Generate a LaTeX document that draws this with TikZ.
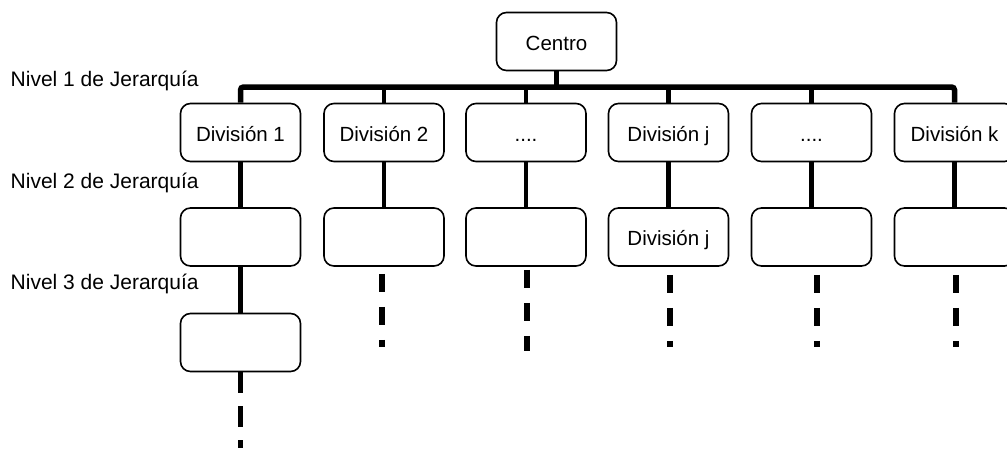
\documentclass[tikz,border=0pt]{standalone}
\usepackage{fontspec}
\setmainfont{Liberation Sans}
\begin{document}
\begin{tikzpicture}[x=1pt,y=-1pt,
  txt/.style={font=\fontsize{20.5}{24}\selectfont},
  box/.style={txt, draw, line width=1.6pt, rounded corners=10pt,
    minimum width=120pt, minimum height=58pt, inner sep=0pt,
    text height=17pt, text depth=0pt},
  lvl/.style={font=\fontsize{21}{25}\selectfont, anchor=base west, inner sep=0pt},
  bus/.style={line width=5.5pt, rounded corners=3pt},
  bar/.style={line width=4.5pt},
  tail/.style={line width=5.5pt, dash pattern=on 18pt off 15pt}]
\clip (0,0) rectangle (1007,448);

% hierarchy level captions
\node[lvl] (n1) at (10.5,86) {Nivel 1 de Jerarquía};
\node[lvl] (n2) at (10.5,188) {Nivel 2 de Jerarquía};
\node[lvl] (n3) at (10.5,289) {Nivel 3 de Jerarquía};

% root
\node[box] (c) at (556.5,41.5) {Centro};

% level 1
\node[box] (d1) at (240.5,132.5) {División 1};
\node[box] (d2) at (384,132.5) {División 2};
\node[box] (d3) at (526,132.5) {....};
\node[box] (d4) at (668.5,132.5) {División j};
\node[box] (d5) at (811.5,132.5) {....};
\node[box] (d6) at (954.5,132.5) {División k};

% level 2
\node[box] (e1) at (240.5,237) {};
\node[box] (e2) at (384,237) {};
\node[box] (e3) at (526,237) {};
\node[box] (e4) at (668.5,237) {División j};
\node[box] (e5) at (811.5,237) {};
\node[box] (e6) at (954.5,237) {};

% level 3
\node[box] (f1) at (240.5,342.5) {};

% horizontal bus under the root
\coordinate (busy) at (0,87);
\draw[bus] (d1.north) -- (d1.north |- busy) -- (d6.north |- busy) -- (d6.north);
\draw[bar] (c.south) -- (c.south |- busy);
\foreach \i in {d2,d3,d4,d5}
  \draw[bar] (\i.north) -- (\i.north |- busy);

% vertical links between levels
\foreach \i/\j in {d1/e1,d2/e2,d3/e3,d4/e4,d5/e5,d6/e6,e1/f1}
  \draw[bar] (\i.south) -- (\j.north);

% continuation marks
\coordinate (tailend) at (0,347);
\coordinate (bottom) at (0,448);
\draw[line width=5.5pt, dash pattern=on 21pt off 13pt] (f1.south) -- (f1.south |- bottom);
\draw[tail] ([yshift=-7pt,xshift=-2pt]e2.south) -- ([xshift=-2pt]e2.south |- tailend);
\draw[tail] ([yshift=-3pt,xshift=1pt]e3.south) -- ([xshift=1pt,yshift=-4pt]e3.south |- tailend);
\draw[tail] ([yshift=-8pt,xshift=1.5pt]e4.south) -- ([xshift=1.5pt]e4.south |- tailend);
\draw[tail] ([yshift=-8pt,xshift=5.5pt]e5.south) -- ([xshift=5.5pt]e5.south |- tailend);
\draw[tail] ([yshift=-8pt,xshift=1.5pt]e6.south) -- ([xshift=1.5pt]e6.south |- tailend);
\end{tikzpicture}
\end{document}
